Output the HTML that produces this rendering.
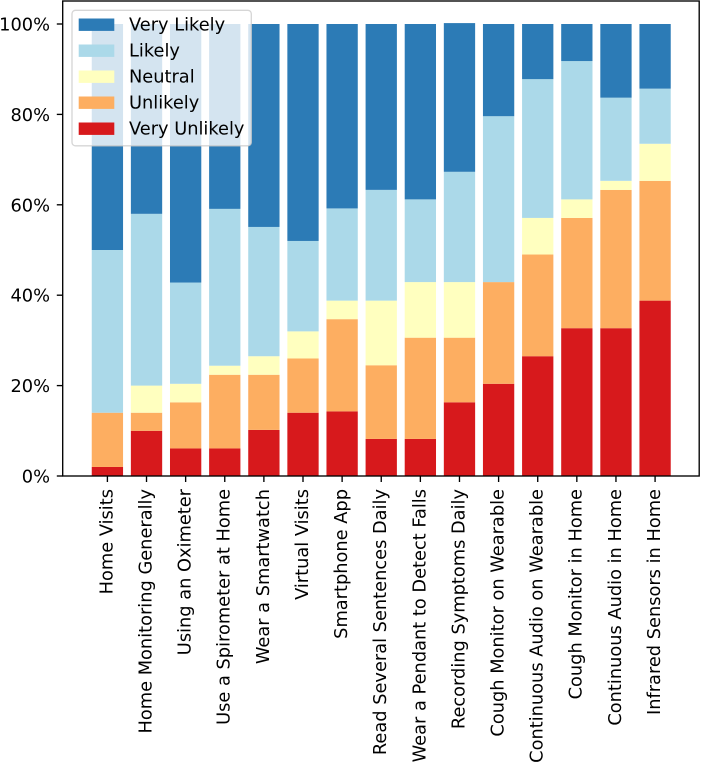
<!DOCTYPE html>
<html>
<head>
<meta charset="utf-8">
<style>
html,body{margin:0;padding:0;background:#fff;width:701px;height:763px;overflow:hidden}
svg{display:block;font-family:"DejaVu Sans","Liberation Sans",sans-serif}
text{fill:#000;font-size:17.8px}
</style>
</head>
<body>
<svg id="chart" xmlns="http://www.w3.org/2000/svg" width="701" height="763" viewBox="0 0 701 763">
<rect x="0" y="0" width="701" height="763" fill="#fff"/>
<g id="bars"></g>
<g id="yaxis"></g>
<g id="xaxis"></g>
<rect x="62.7" y="1" width="636.5" height="475" fill="none" stroke="#000" stroke-width="1.35"/>
<g>
<rect x="72" y="10.3" width="179.3" height="135.5" rx="3.4" fill="#fff" fill-opacity="0.8" stroke="#ccc" stroke-opacity="0.8" stroke-width="1.35"/>
<g><rect x="78.7" y="18.5" width="35.6" height="12.4" fill="#2c7bb6"/><text x="129" y="30.6">Very Likely</text></g>
<g><rect x="78.7" y="44.5" width="35.6" height="12.4" fill="#abd9e9"/><text x="129" y="56.6">Likely</text></g>
<g><rect x="78.7" y="70.5" width="35.6" height="12.4" fill="#ffffbf"/><text x="129" y="82.6">Neutral</text></g>
<g><rect x="78.7" y="96.5" width="35.6" height="12.4" fill="#fdae61"/><text x="129" y="108.6">Unlikely</text></g>
<g><rect x="78.7" y="122.5" width="35.6" height="12.4" fill="#d7191c"/><text x="129" y="134.6">Very Unlikely</text></g>
</g>
</svg>
<script>
const categories = ["Home Visits","Home Monitoring Generally","Using an Oximeter","Use a Spirometer at Home","Wear a Smartwatch","Virtual Visits","Smartphone App","Read Several Sentences Daily","Wear a Pendant to Detect Falls","Recording Symptoms Daily","Cough Monitor on Wearable","Continuous Audio on Wearable","Cough Monitor in Home","Continuous Audio in Home","Infrared Sensors in Home"];
const veryUnlikely = [2,10,6.1,6.1,10.2,14,14.3,8.2,8.2,16.3,20.4,26.5,32.7,32.7,38.8];
const unlikely = [12,4,10.2,16.3,12.2,12,20.4,16.3,22.4,14.3,22.5,22.5,24.4,30.6,26.5];
const neutral = [0,6,4.1,2,4.1,6,4.1,14.3,12.3,12.3,0,8.1,4.1,2,8.2];
const likely = [36,38,22.4,34.7,28.6,20,20.4,24.5,18.3,24.4,36.7,30.7,30.6,18.4,12.2];
const veryLikely = [50,42,57.2,40.9,44.9,48,40.8,36.7,38.8,32.9,20.4,12.2,8.2,16.3,14.3];
const seriesNames = ["very-unlikely","unlikely","neutral","likely","very-likely"];
const seriesValues = [veryUnlikely,unlikely,neutral,likely,veryLikely];
const seriesColors = ["#d7191c","#fdae61","#ffffbf","#abd9e9","#2c7bb6"];
const yTicks = [0,20,40,60,80,100];

const NS = "http://www.w3.org/2000/svg";
const xScale = i => 107.4 + i * 39.12;
const yScale = v => 476 - v * 4.52;
const barWidth = 31.3;
const barsG = document.getElementById("bars");
const yG = document.getElementById("yaxis");
const xG = document.getElementById("xaxis");

categories.forEach((cat, i) => {
  let base = 0;
  seriesValues.forEach((vals, s) => {
    const r = document.createElementNS(NS, "rect");
    
    
    r.setAttribute("x", xScale(i) - barWidth / 2);
    r.setAttribute("y", yScale(base + vals[i]));
    r.setAttribute("width", barWidth);
    r.setAttribute("height", yScale(base) - yScale(base + vals[i]));
    r.setAttribute("fill", seriesColors[s]);
    barsG.appendChild(r);
    base += vals[i];
  });

  const tick = document.createElementNS(NS, "line");
  
  
  tick.setAttribute("x1", xScale(i));
  tick.setAttribute("x2", xScale(i));
  tick.setAttribute("y1", 476);
  tick.setAttribute("y2", 482);
  tick.setAttribute("stroke", "#000");
  tick.setAttribute("stroke-width", 1.35);
  xG.appendChild(tick);

  const label = document.createElementNS(NS, "text");
  
  
  const lx = xScale(i) + 4.9;
  label.setAttribute("x", lx);
  label.setAttribute("y", 489);
  label.setAttribute("text-anchor", "end");
  label.setAttribute("transform", "rotate(-90 " + lx + " 489)");
  label.textContent = cat;
  xG.appendChild(label);
});

yTicks.forEach(v => {
  const tick = document.createElementNS(NS, "line");
  
  
  tick.setAttribute("x1", 56.8);
  tick.setAttribute("x2", 62.7);
  tick.setAttribute("y1", yScale(v));
  tick.setAttribute("y2", yScale(v));
  tick.setAttribute("stroke", "#000");
  tick.setAttribute("stroke-width", 1.35);
  yG.appendChild(tick);

  const label = document.createElementNS(NS, "text");
  
  
  label.setAttribute("x", 50);
  label.setAttribute("y", yScale(v) + 6.5);
  label.setAttribute("text-anchor", "end");
  label.textContent = v + "%";
  yG.appendChild(label);
});
</script>
</body>
</html>
